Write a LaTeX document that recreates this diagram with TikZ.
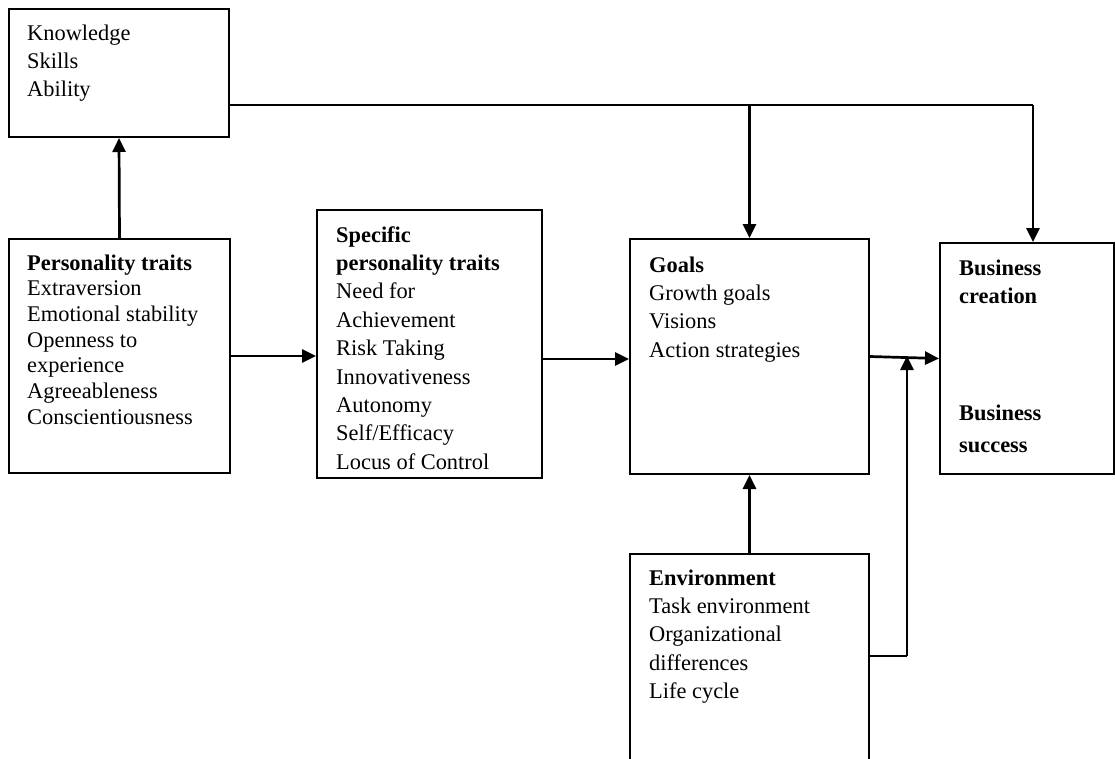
\documentclass[tikz,border=0pt]{standalone}
\usepackage{fontspec}
\setmainfont{Liberation Serif}
\usetikzlibrary{arrows.meta,calc}
\begin{document}
\begin{tikzpicture}[x=1pt,y=-1pt,
  box/.style={draw, line width=2pt, rectangle, anchor=north west, inner sep=0pt},
  txt/.style={anchor=north west, inner sep=0pt, align=left, font={\fontsize{22.4}{28.4}\selectfont}},
  txttight/.style={txt, font={\fontsize{22.4}{25.7}\selectfont}},
  arr/.style={line width=2.7pt, -{Triangle[length=14pt,width=13pt]}},
  link/.style={line width=2.7pt}]
\useasboundingbox (0,0) rectangle (1115,758);

% boxes
\node[box, minimum width=220pt, minimum height=128pt] (ksa) at (8,8) {};
\node[box, minimum width=221pt, minimum height=234pt] (pers) at (8,238) {};
\node[box, minimum width=225pt, minimum height=268pt] (spec) at (316,209) {};
\node[box, minimum width=239pt, minimum height=235pt] (goals) at (629,238) {};
\node[box, minimum width=174pt, minimum height=231pt] (bus) at (939,242) {};
\node[box, minimum width=239pt, minimum height=212pt] (env) at (629,553) {};

% box texts
\node[txt] (ksatext) at (27,20) {\strut Knowledge\\Skills\\Ability};
\node[txttight] (perstext) at (27,252) {\strut\textbf{Personality traits}\\Extraversion\\Emotional stability\\Openness to\\experience\\Agreeableness\\Conscientiousness};
\node[txt] (spectext) at (336,222) {\strut\textbf{Specific}\\\textbf{personality traits}\\Need for\\Achievement\\Risk Taking\\Innovativeness\\Autonomy\\Self/Efficacy\\Locus of Control};
\node[txt] (goalstext) at (649,252) {\strut\textbf{Goals}\\Growth goals\\Visions\\Action strategies};
\node[txt] (bustext) at (959,255) {\strut\textbf{Business}\\\textbf{creation}\\[88.6pt]\textbf{Business}\\[3.6pt]\textbf{success}};
\node[txt] (envtext) at (649,565) {\strut\textbf{Environment}\\Task environment\\Organizational\\differences\\Life cycle};

% junction points
\coordinate (top) at (1033,105);
\coordinate (topgoals) at (goals.north |- top);
\coordinate (busin) at (bus.north west -| top);
\coordinate (envout) at ($(env.north east)+(0,103)$);
\coordinate (envup) at (907,656);
\coordinate (merge) at (907,356);

% connectors
\draw[arr] (pers.north) -- (ksa.south);
\draw[link] (ksa.east |- top) -- (top);
\draw[arr] (top) -- (busin);
\draw[arr] (topgoals) -- (goals.north);
\draw[arr] (pers.east) -- (pers.east -| spec.west);
\draw[arr] ([yshift=-15pt]spec.east) -- ([yshift=-15pt]spec.east -| goals.west);
\draw[arr] (goals.east) -- (bus.west);
\draw[arr] (env.north) -- (goals.south);
\draw[link] (envout) -- (envup);
\draw[arr] (envup) -- (merge);
\end{tikzpicture}
\end{document}
